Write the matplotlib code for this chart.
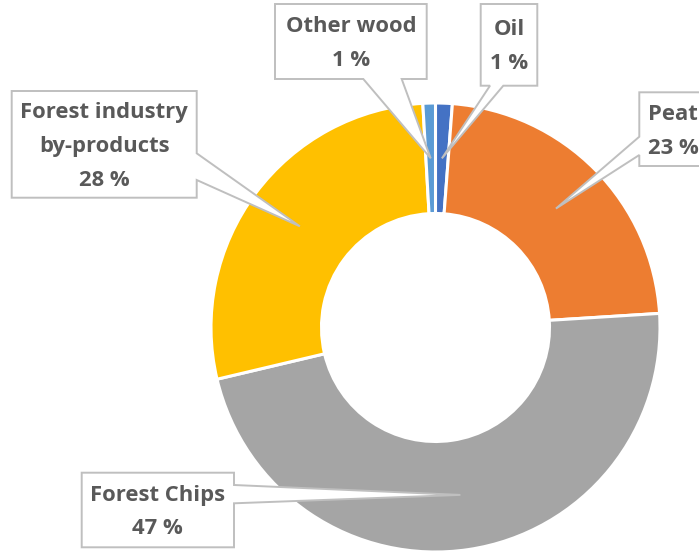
import numpy as np
import matplotlib
matplotlib.use("Agg")
import matplotlib.pyplot as plt
from matplotlib.patches import Polygon

# ---- data ----
categories = ["Oil", "Peat", "Forest Chips", "Forest industry\nby-products", "Other wood"]
values = [1.2, 22.8, 47.3, 27.8, 0.9]
colors = ["#4472C4", "#ED7D31", "#A5A5A5", "#FFC000", "#5B9BD5"]

W, H = 699, 553
fig = plt.figure(figsize=(W / 100, H / 100), dpi=100)
ax = fig.add_axes([0, 0, 1, 1])

cx, cy = 435.5, 327.5   # pixel coords (y down)
R = 224.5
ring = 110.5

wedges, _ = ax.pie(values, colors=colors, startangle=90, counterclock=False,
                   center=(cx, H - cy), radius=R,
                   wedgeprops=dict(width=ring, edgecolor="white", linewidth=2.2))
ax.set_xlim(0, W)
ax.set_ylim(0, H)
ax.set_aspect("auto")
ax.axis("off")

# mid-angle tips from data
tot = sum(values)
cum = np.cumsum([0] + values)
tips = []
for i in range(len(values)):
    mid = (cum[i] + cum[i + 1]) / 2 / tot * 360.0
    th = np.deg2rad(90 - mid)
    rr = R - ring / 2
    tips.append((cx + rr * np.cos(th), cy - rr * np.sin(th)))

# callout boxes (pixel coords, y down): x0, y0, x1, y1, side, base a, base b
boxes = {
    0: (480.7, 4, 537.3, 85.7, "bottom", 490, 503.3),
    1: (639.3, 92.3, 718, 166, "left", 136.7, 155),
    2: (81.7, 472.7, 234, 547.3, "right", 485, 503.3),
    3: (11.7, 91, 196.7, 197.7, "right", 153.3, 180),
    4: (275, 4, 426.7, 79, "bottom", 363.3, 401.7),
}

def P(x, y):
    return (x, H - y)

for i, (x0, y0, x1, y1, side, a, b) in boxes.items():
    tx, ty = tips[i]
    if side == "bottom":
        pts = [(x0, y0), (x1, y0), (x1, y1), (b, y1), (tx, ty), (a, y1), (x0, y1)]
    elif side == "right":
        pts = [(x0, y0), (x1, y0), (x1, a), (tx, ty), (x1, b), (x1, y1), (x0, y1)]
    else:  # left
        pts = [(x0, y0), (x1, y0), (x1, y1), (x0, y1), (x0, b), (tx, ty), (x0, a)]
    poly = Polygon([P(*p) for p in pts], closed=True, facecolor="white",
                   edgecolor="#BFBFBF", linewidth=1.4, zorder=5, joinstyle="miter")
    ax.add_patch(poly)
    lines = categories[i].split("\n") + [f"{round(values[i] / tot * 100):.0f} %"]
    spacing = 34.0
    ccx = (x0 + x1) / 2 if side != "left" else 673
    ccy = (y0 + y1) / 2 + 2.0
    n = len(lines)
    for k, ln in enumerate(lines):
        yy = ccy + (k - (n - 1) / 2) * spacing
        ax.text(*P(ccx, yy), ln, ha="center", va="center", fontsize=15.8,
                fontweight="bold", family="Open Sans", color="#595959", zorder=6)

fig.savefig("out.png", dpi=100)
